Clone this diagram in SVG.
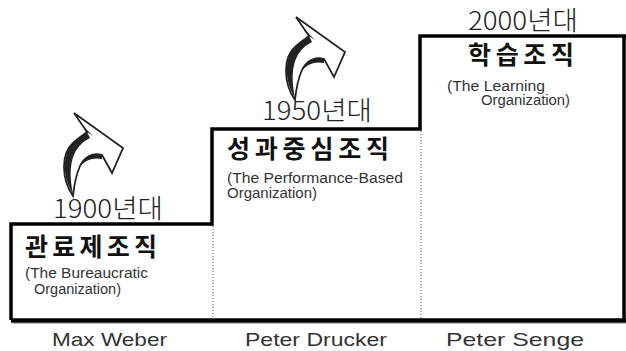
<svg xmlns="http://www.w3.org/2000/svg" xmlns:xlink="http://www.w3.org/1999/xlink" width="626" height="351" viewBox="0 0 626 351">
<style>
.era{font-family:"Noto Sans CJK KR","Liberation Sans",sans-serif;font-weight:300;font-size:26px;fill:#222}
.title{font-family:"Noto Sans CJK KR","Liberation Sans",sans-serif;font-weight:700;font-size:25px;fill:#111}
.sub{font-family:"Liberation Sans","Noto Sans CJK KR",sans-serif;font-size:14px;fill:#333}
.who{font-family:"Liberation Sans",sans-serif;font-size:19px;fill:#333}
.step{fill:none;stroke:#000;stroke-width:3.5;stroke-linejoin:miter}
.dot{fill:none;stroke:#555;stroke-width:1;stroke-dasharray:1 2}
</style>
<defs>
<g id="arrow">
<path d="M73,196 C61,178 61,154 73,143 C78,138 83,135 87,132 L74,113 L123,148 L112,173 L102,155 C92,152 84,158 80,166 C76,175 74,186 73,196 Z" fill="#fff" stroke="#222" stroke-width="1.8" stroke-linejoin="miter"/>
<path d="M73,194 C62,176 62,154 73,143 C78,138 83,135 87,132 L90,138 C76,145 66,160 73,194 Z" fill="#222"/>
<path d="M80,166 C84,158 92,152 102,155 L102,159 C93,157 86,160 80,166 Z" fill="#222"/>
<path d="M87,132 L82,125 L93,136 Z" fill="#222"/>
</g>
</defs>
<g id="connectors">
<path class="dot" d="M213,226 V319"/>
<path class="dot" d="M421,131 V319"/>
<path class="step" d="M11,320 V224 H212 V129 H420 V36 H626"/>
<path class="step" d="M624,36 V320"/>
<path d="M11,320.5 H626" stroke="#000" stroke-width="4.5" fill="none"/>
<path d="M13,323.5 H626" stroke="#bbb" stroke-width="1" fill="none"/>
<use xlink:href="#arrow" href="#arrow"/>
<use xlink:href="#arrow" href="#arrow" transform="translate(222,-96)"/>
</g>
<g id="node-bureaucratic">
<text class="era" x="53" y="218" textLength="110" lengthAdjust="spacingAndGlyphs">1900년대</text>
<text class="title" x="25" y="256" textLength="132" lengthAdjust="spacing">관료제조직</text>
<text class="sub" x="25" y="278" textLength="123" lengthAdjust="spacingAndGlyphs">(The  Bureaucratic</text>
<text class="sub" x="34" y="294" textLength="87" lengthAdjust="spacingAndGlyphs">Organization)</text>
<text class="who" x="52" y="346" textLength="115" lengthAdjust="spacingAndGlyphs">Max  Weber</text>
</g>
<g id="node-performance">
<text class="era" x="262" y="120" textLength="110" lengthAdjust="spacingAndGlyphs">1950년대</text>
<text class="title" x="227" y="158" textLength="162" lengthAdjust="spacing">성과중심조직</text>
<text class="sub" x="227" y="183" textLength="176" lengthAdjust="spacingAndGlyphs">(The  Performance-Based</text>
<text class="sub" x="227" y="198" textLength="90" lengthAdjust="spacingAndGlyphs">Organization)</text>
<text class="who" x="245" y="346" textLength="142" lengthAdjust="spacingAndGlyphs">Peter  Drucker</text>
</g>
<g id="node-learning">
<text class="era" x="468" y="30" textLength="110" lengthAdjust="spacingAndGlyphs">2000년대</text>
<text class="title" x="468" y="64" textLength="106" lengthAdjust="spacing">학습조직</text>
<text class="sub" x="447" y="91" textLength="98" lengthAdjust="spacingAndGlyphs">(The  Learning</text>
<text class="sub" x="481" y="105" textLength="89" lengthAdjust="spacingAndGlyphs">Organization)</text>
<text class="who" x="446" y="346" textLength="138" lengthAdjust="spacingAndGlyphs">Peter  Senge</text>
</g>
</svg>
